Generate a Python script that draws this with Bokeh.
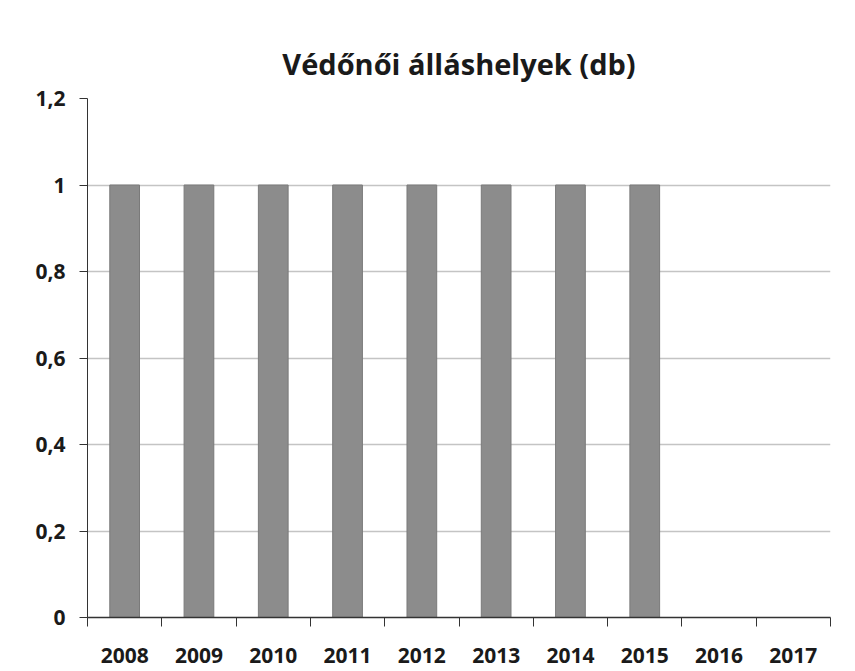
from bokeh.plotting import figure
from bokeh.models import FixedTicker, ColumnDataSource, Range1d
from bokeh.embed import file_html
from bokeh.resources import INLINE

years = ["2008", "2009", "2010", "2011", "2012", "2013", "2014", "2015", "2016", "2017"]
values = [1, 1, 1, 1, 1, 1, 1, 1, 0, 0]
y_ticks = [0, 0.2, 0.4, 0.6, 0.8, 1.0, 1.2]
y_tick_labels = ["0", "0,2", "0,4", "0,6", "0,8", "1", "1,2"]

xpos = [i + 0.5 for i in range(len(years))]
src = ColumnDataSource(dict(x=xpos, top=values))

p = figure(width=847, height=667, output_backend="svg", toolbar_location=None,
           x_range=Range1d(0, len(years)), y_range=Range1d(0, 1.2),
           title="Védőnői álláshelyek (db)",
           min_border_left=87, min_border_right=17, min_border_top=98, min_border_bottom=50)

p.title.align = "center"
p.title.text_font = "Open Sans"
p.title.text_font_size = "29px"
p.title.text_font_style = "bold"
p.title.text_color = "#1a1a1a"
p.title.standoff = 32

p.vbar(x="x", top="top", width=0.4, bottom=0, source=src,
       fill_color="#8c8c8c", line_color="#7a7a7a")

p.outline_line_color = None
p.background_fill_color = "white"
p.border_fill_color = "white"

p.xgrid.grid_line_color = None
p.ygrid.grid_line_color = "#c4c4c4"
p.ygrid.grid_line_width = 1.5

p.xaxis.ticker = FixedTicker(ticks=xpos, minor_ticks=list(range(len(years) + 1)))
p.xaxis.major_label_overrides = {x: y for x, y in zip(xpos, years)}
p.xaxis.major_tick_out = 0
p.xaxis.major_tick_in = 0
p.xaxis.minor_tick_out = 9
p.xaxis.minor_tick_in = 0
p.xaxis.minor_tick_line_color = "#333333"
p.xaxis.axis_line_color = "#333333"
p.xaxis.axis_line_width = 1.5
p.xaxis.major_label_standoff = 21
p.xaxis.major_label_text_font = "Open Sans"
p.xaxis.major_label_text_font_size = "21px"
p.xaxis.major_label_text_font_style = "bold"
p.xaxis.major_label_text_color = "#1a1a1a"

p.yaxis.ticker = FixedTicker(ticks=y_ticks, minor_ticks=[])
p.yaxis.major_label_overrides = {t: l for t, l in zip(y_ticks, y_tick_labels)}
p.yaxis.major_tick_out = 8
p.yaxis.major_tick_in = 0
p.yaxis.major_tick_line_color = "#333333"
p.yaxis.axis_line_color = "#333333"
p.yaxis.major_label_standoff = 14
p.yaxis.major_label_text_font = "Open Sans"
p.yaxis.major_label_text_font_size = "21px"
p.yaxis.major_label_text_font_style = "bold"
p.yaxis.major_label_text_color = "#1a1a1a"

open("out.html", "w").write(file_html(p, INLINE))
